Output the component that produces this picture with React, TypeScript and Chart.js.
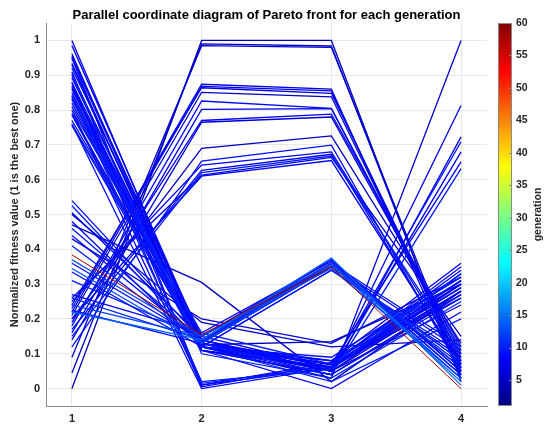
import { useEffect, useRef } from 'react'
import { Chart, registerables } from 'chart.js'

Chart.register(...registerables)
Chart.defaults.font.family = '"Liberation Sans", Arial, Helvetica, sans-serif'

// objective axes and tick labels
const objectiveAxes = [1, 2, 3, 4]
const fitnessTicks = [0, 0.1, 0.2, 0.3, 0.4, 0.5, 0.6, 0.7, 0.8, 0.9, 1]
const generationTicks = [5, 10, 15, 20, 25, 30, 35, 40, 45, 50, 55, 60]
const generationMin = 1
const generationMax = 60

// each row: normalized fitness on objective 1..4
const highFirstLowRest = [
  [1.0, 0.12, 0.05, 0.3],
  [0.985, 0.14, 0.06, 0.33],
  [0.962, 0.11, 0.04, 0.27],
  [0.948, 0.13, 0.07, 0.35],
  [0.934, 0.12, 0.08, 0.31],
  [0.92, 0.15, 0.06, 0.29],
  [0.905, 0.1, 0.03, 0.25],
  [0.892, 0.13, 0.07, 0.34],
  [0.878, 0.12, 0.09, 0.32],
  [0.865, 0.14, 0.05, 0.28],
  [0.85, 0.11, 0.06, 0.3],
  [0.835, 0.13, 0.08, 0.36],
  [0.82, 0.12, 0.04, 0.26],
  [0.8, 0.16, 0.07, 0.33],
  [0.785, 0.11, 0.06, 0.31],
  [0.77, 0.13, 0.05, 0.24],
  [0.755, 0.12, 0.07, 0.29],
  [0.81, 0.126, 0.135, 0.3],
  [0.87, 0.11, 0.0, 0.22],
  [0.842, 0.12, 0.02, 0.2],
]
const highFirstLowRestGen = [7, 8, 6, 9, 8, 7, 10, 8, 9, 6, 8, 7, 9, 10, 8, 7, 9, 5, 8, 10]

const highFirstHighLast = [
  [0.93, 0.12, 0.03, 1.0],
  [0.9, 0.13, 0.05, 0.813],
  [0.86, 0.11, 0.04, 0.723],
  [0.83, 0.12, 0.06, 0.709],
  [0.955, 0.14, 0.05, 0.68],
  [0.79, 0.12, 0.07, 0.651],
  [0.76, 0.13, 0.04, 0.632],
]
const highFirstHighLastGen = [6, 7, 8, 9, 7, 8, 10]

const zeroSecond = [
  [0.95, 0.01, 0.06, 0.28],
  [0.91, 0.015, 0.065, 0.31],
  [0.88, 0.005, 0.07, 0.26],
  [0.84, 0.02, 0.055, 0.33],
  [0.8, 0.01, 0.075, 0.3],
  [0.76, 0.0, 0.06, 0.27],
]
const zeroSecondGen = [8, 9, 7, 10, 8, 9]

const highMiddle = [
  [0.0, 1.0, 1.0, 0.02],
  [0.045, 0.99, 0.984, 0.03],
  [0.09, 0.985, 0.98, 0.05],
  [0.23, 0.874, 0.86, 0.04],
  [0.22, 0.868, 0.855, 0.06],
  [0.24, 0.864, 0.848, 0.08],
  [0.21, 0.851, 0.838, 0.07],
  [0.18, 0.826, 0.805, 0.1],
  [0.16, 0.802, 0.804, 0.09],
  [0.19, 0.77, 0.788, 0.12],
  [0.14, 0.765, 0.78, 0.11],
  [0.2, 0.69, 0.726, 0.13],
  [0.12, 0.653, 0.699, 0.05],
  [0.25, 0.642, 0.68, 0.08],
  [0.17, 0.627, 0.673, 0.06],
  [0.15, 0.62, 0.668, 0.1],
  [0.26, 0.613, 0.664, 0.15],
  [0.2, 0.61, 0.655, 0.07],
]
const highMiddleGen = [4, 5, 6, 7, 8, 6, 5, 9, 7, 8, 6, 5, 9, 8, 7, 10, 6, 8]

const converging = [
  [0.54, 0.14, 0.36, 0.06],
  [0.525, 0.13, 0.35, 0.08],
  [0.505, 0.15, 0.37, 0.05],
  [0.48, 0.12, 0.34, 0.09],
  [0.46, 0.14, 0.36, 0.04],
  [0.44, 0.135, 0.355, 0.11],
  [0.41, 0.13, 0.35, 0.07],
  [0.37, 0.15, 0.36, 0.03],
  [0.36, 0.14, 0.37, 0.05],
  [0.345, 0.13, 0.355, 0.02],
  [0.335, 0.12, 0.34, 0.1],
  [0.31, 0.15, 0.36, 0.06],
  [0.27, 0.16, 0.365, 0.04],
  [0.26, 0.14, 0.35, 0.08],
  [0.24, 0.15, 0.345, 0.03],
  [0.225, 0.13, 0.36, 0.12],
  [0.22, 0.14, 0.375, 0.01],
  [0.384, 0.155, 0.35, 0.0],
]
const convergingGen = [9, 10, 8, 8, 10, 9, 10, 12, 9, 13, 9, 10, 8, 11, 12, 9, 14, 58]

const strays = [
  [0.47, 0.305, 0.02, 0.28],
  [0.43, 0.2, 0.13, 0.32],
  [0.5, 0.19, 0.12, 0.14],
]
const straysGen = [5, 6, 5]

// matlab jet colormap
function jet (t: number) {
  const c = (v: number) => Math.round(255 * Math.min(1, Math.max(0, v)))
  return `rgb(${c(1.5 - Math.abs(4 * t - 3))},${c(1.5 - Math.abs(4 * t - 2))},${c(1.5 - Math.abs(4 * t - 1))})`
}
const genColor = (g: number) => jet((g - generationMin) / (generationMax - generationMin))

const colorbarPlugin = {
  id: 'colorbar',
  afterDraw (chart: any) {
    const s = chart.scales.gen
    const ctx = chart.ctx
    const top = s.getPixelForValue(generationMax)
    const bottom = s.getPixelForValue(generationMin)
    const x0 = s.left + 11
    const w = 14
    const grad = ctx.createLinearGradient(0, bottom, 0, top)
    for (let i = 0; i <= 40; i++) grad.addColorStop(i / 40, jet(i / 40))
    ctx.save()
    ctx.fillStyle = grad
    ctx.fillRect(x0, top, w, bottom - top)
    ctx.strokeStyle = '#8a8a8a'
    ctx.lineWidth = 1
    ctx.strokeRect(x0 + 0.5, top + 0.5, w - 1, bottom - top - 1)
    ctx.beginPath()
    s.ticks.forEach((t: any) => {
      const y = Math.round(s.getPixelForValue(t.value)) + 0.5
      ctx.moveTo(x0 + w - 3, y)
      ctx.lineTo(x0 + w, y)
    })
    ctx.stroke()
    ctx.translate(538, (top + bottom) / 2)
    ctx.rotate(-Math.PI / 2)
    ctx.fillStyle = '#262626'
    ctx.font = 'bold 10.5px "Liberation Sans", Arial, sans-serif'
    ctx.textAlign = 'center'
    ctx.textBaseline = 'middle'
    ctx.fillText('generation', 0, 0)
    ctx.restore()
  },
}

export default function App () {
  const chartRef = useRef<HTMLCanvasElement>(null)
  const chartInstance = useRef<Chart | null>(null)

  useEffect(() => {
    if (chartInstance.current) {
      chartInstance.current.destroy()
    }
    if (!chartRef.current) return

    const families: [number[][], number[]][] = [
      [highFirstLowRest, highFirstLowRestGen],
      [highFirstHighLast, highFirstHighLastGen],
      [zeroSecond, zeroSecondGen],
      [highMiddle, highMiddleGen],
      [converging, convergingGen],
      [strays, straysGen],
    ]
    const datasets = families.flatMap(([rows, gens]) =>
      rows.map((row, i) => ({
        data: row.map((v, j) => ({ x: objectiveAxes[j], y: v })),
        borderColor: genColor(gens[i]),
        borderWidth: gens[i] > 30 ? 1 : 1.3,
        pointRadius: 0,
        tension: 0,
        order: -gens[i],
      }))
    )

    const tickFont = { size: 11, weight: 'bold' as const }

    chartInstance.current = new Chart(chartRef.current, {
      type: 'line',
      data: { datasets },
      plugins: [colorbarPlugin],
      options: {
        animation: false,
        responsive: true,
        maintainAspectRatio: false,
        layout: { padding: 0 },
        plugins: {
          legend: { display: false },
          tooltip: { enabled: false },
          title: {
            display: true,
            fullSize: false,
            text: 'Parallel coordinate diagram of Pareto front for each generation',
            color: '#000',
            font: { size: 13, weight: 'bold', lineHeight: 1 },
            padding: { top: 9, bottom: 1 },
          },
        },
        scales: {
          x: {
            type: 'linear',
            min: 0.8,
            max: 4.2,
            afterBuildTicks: (s: any) => { s.ticks = objectiveAxes.map(v => ({ value: v })) },
            afterFit: (s: any) => { s.height = 29 },
            ticks: { color: '#262626', font: tickFont, padding: 6, callback: (v: any) => String(v) },
            grid: { color: '#e8e8e8', drawTicks: false },
            border: { color: '#8a8a8a', width: 1 },
          },
          y: {
            type: 'linear',
            min: -0.05,
            max: 1.05,
            afterBuildTicks: (s: any) => { s.ticks = fitnessTicks.map(v => ({ value: v })) },
            afterFit: (s: any) => { s.width = 46 },
            ticks: { color: '#262626', font: tickFont, padding: 6, callback: (v: any) => String(Number(Number(v).toFixed(1))) },
            grid: { color: '#e8e8e8', drawTicks: false },
            border: { color: '#8a8a8a', width: 1 },
            title: {
              display: true,
              text: 'Normalized fitness value (1 is the best one)',
              color: '#262626',
              font: { size: 11, weight: 'bold' },
              padding: { top: 8, bottom: 0 },
            },
          },
          gen: {
            type: 'linear',
            position: 'right',
            min: generationMin,
            max: generationMax,
            afterBuildTicks: (s: any) => { s.ticks = generationTicks.map(v => ({ value: v })) },
            afterFit: (s: any) => { s.width = 63 },
            ticks: { color: '#262626', font: { size: 10.5, weight: 'bold' }, padding: 2 },
            grid: { drawOnChartArea: false, drawTicks: true, tickLength: 27, tickColor: 'rgba(0,0,0,0)' },
            border: { display: false },
          },
        },
      },
    })

    return () => {
      if (chartInstance.current) {
        chartInstance.current.destroy()
        chartInstance.current = null
      }
    }
  }, [])

  return (
    <div style={{ position: 'absolute', left: 0, top: 0, width: 550, height: 435, background: '#fff' }}>
      <canvas ref={chartRef} />
    </div>
  )
}
